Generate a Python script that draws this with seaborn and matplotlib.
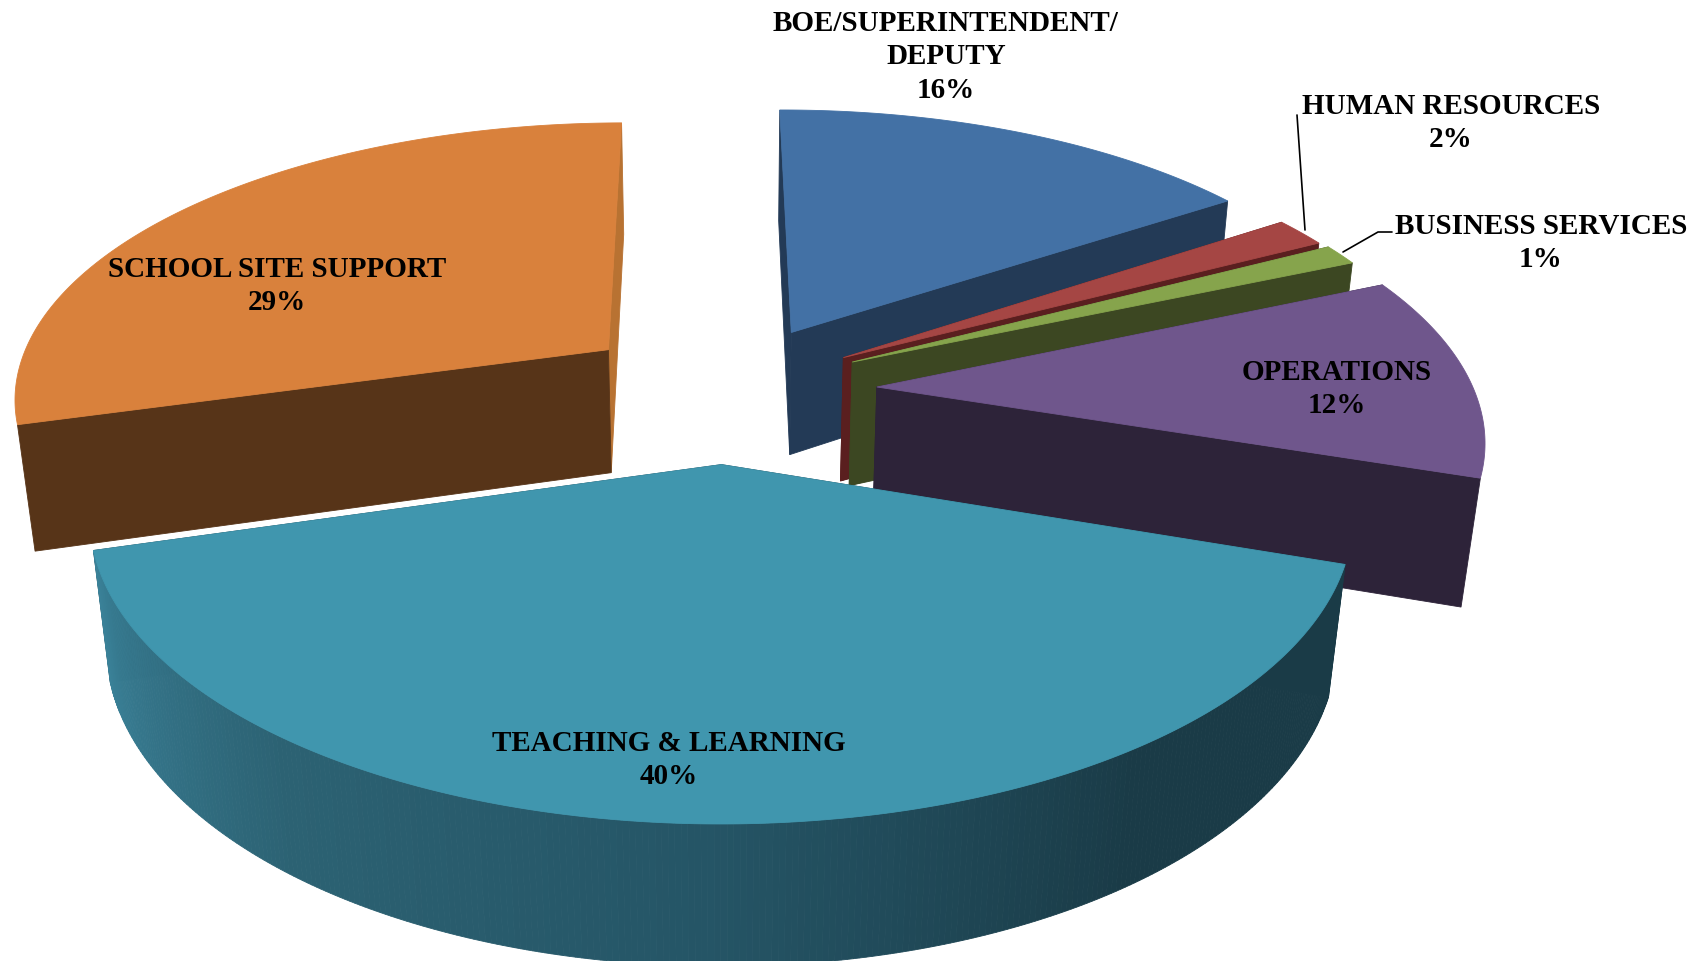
"""Exploded 3D pie of budget shares, projected by hand onto a flat seaborn-styled axes."""

import numpy as np
import matplotlib.pyplot as plt
import seaborn as sns

# =============================================================================
# DATA
# =============================================================================

CATEGORIES = [
    "BOE/SUPERINTENDENT/\nDEPUTY",
    "HUMAN RESOURCES",
    "BUSINESS SERVICES",
    "OPERATIONS",
    "TEACHING & LEARNING",
    "SCHOOL SITE SUPPORT",
]
SHARES = [15.7, 1.7, 1.2, 11.6, 40.47, 29.33]

TOP_COLORS = ["#4371a5", "#a54644", "#86a44c", "#6f568c", "#4096ae", "#d9813c"]
CUT_COLORS = ["#233a56", "#5a1f1f", "#3c4722", "#2d2339", "#1a3d49", "#573418"]
CLOSE_COLORS = ["#233a56", "#5a1f1f", "#3c4722", "#2d2339", "#1a3d49", "#b87232"]
TEACHING_RIM = ["#3a8198", "#2c6273", "#255566", "#1a3b47", "#1a3b47"]

# =============================================================================
# LAYOUT
# =============================================================================

EXPLODE = [0.245, 0.235, 0.24, 0.255, 0.26, 0.25]
START_ANGLE = -0.3  # clockwise from the far side of the pie

# projection constants, in output pixels
CX, CY = 725.0, 390.0
SCALE_X, SCALE_Y = 597.0, 275.0
DEPTH = 128.0
PERSP_Y, PERSP_Z = 0.16, 0.025

DRAW_ORDER = [0, 1, 2, 3, 5, 4]
LABEL_POS = [
    (946, 57),
    (1451, 123),
    (1541, 243),
    (1337, 389),
    (669, 760),
    (277, 286),
]
FS_LABEL = 21


def project(x, y, z):
    """Map pie coordinates (radius 1, z 0 top to 1 bottom) to output pixels."""
    w = 1 + PERSP_Y * y + PERSP_Z * z
    return CX + SCALE_X * x / w, CY - (SCALE_Y * y - DEPTH * z) / w


def draw_poly(ax, xs, ys, color):
    ax.fill(xs, ys, facecolor=color, edgecolor=color, linewidth=0.6)


def draw_slice(ax, a0, a1, explode, top, cut, close, rim_palette=None):
    """Draw one extruded wedge from angle a0 to a1 (degrees, clockwise)."""
    mid = np.radians((a0 + a1) / 2)
    ox, oy = explode * np.sin(mid), explode * np.cos(mid)
    theta = np.radians(np.linspace(a0, a1, max(int(a1 - a0) * 2, 6)))
    rx, ry = ox + np.sin(theta), oy + np.cos(theta)

    # cut face on the closing side first, the starting side over it
    for edge, color in ((-1, close), (0, cut)):
        x0, y0 = project(ox, oy, 0)
        x1, y1 = project(rx[edge], ry[edge], 0)
        x2, y2 = project(rx[edge], ry[edge], 1)
        x3, y3 = project(ox, oy, 1)
        draw_poly(ax, [x0, x1, x2, x3], [y0, y1, y2, y3], color)

    # outer wall only where the slice faces the viewer, one strip per step
    if rim_palette is not None:
        for i in range(len(theta) - 1):
            xa, ya = project(rx[i:i + 2], ry[i:i + 2], 0)
            xb, yb = project(rx[i:i + 2][::-1], ry[i:i + 2][::-1], 1)
            draw_poly(ax, np.r_[xa, xb], np.r_[ya, yb], rim_palette[i])

    # top surface
    xt, yt = project(np.r_[ox, rx], np.r_[oy, ry], 0)
    draw_poly(ax, xt, yt, top)


def main():
    sns.set_theme(style="white")
    plt.rcParams["font.family"] = ["Liberation Serif", "DejaVu Serif"]

    fig = plt.figure(figsize=(17.06, 9.61), dpi=100)
    ax = fig.add_axes([0, 0, 1, 1])
    ax.set_xlim(0, 1706)
    ax.set_ylim(961, 0)
    ax.axis("off")

    edges = START_ANGLE + np.r_[0, np.cumsum(SHARES)] * 3.6
    for i in DRAW_ORDER:
        palette = None
        if CATEGORIES[i].startswith("TEACHING"):
            steps = max(int(edges[i + 1] - edges[i]) * 2, 6) - 1
            # wall runs right to left here, so the dark end comes first
            palette = sns.blend_palette(TEACHING_RIM[::-1], n_colors=steps)
        draw_slice(
            ax, edges[i], edges[i + 1], EXPLODE[i],
            TOP_COLORS[i], CUT_COLORS[i], CLOSE_COLORS[i], palette,
        )

    # leader lines for the two thin slices
    ax.plot([1297, 1305], [115, 230], color="black", linewidth=1.2)
    ax.plot([1392, 1378, 1343], [232, 232, 252], color="black", linewidth=1.2)

    for name, share, (x, y) in zip(CATEGORIES, SHARES, LABEL_POS):
        ax.text(
            x, y, f"{name}\n{share:.0f}%",
            ha="center", va="center", fontsize=FS_LABEL, fontweight="bold",
            color="black", linespacing=1.32,
        )

    fig.savefig("out.png", dpi=100)
    plt.close(fig)


if __name__ == "__main__":
    main()
